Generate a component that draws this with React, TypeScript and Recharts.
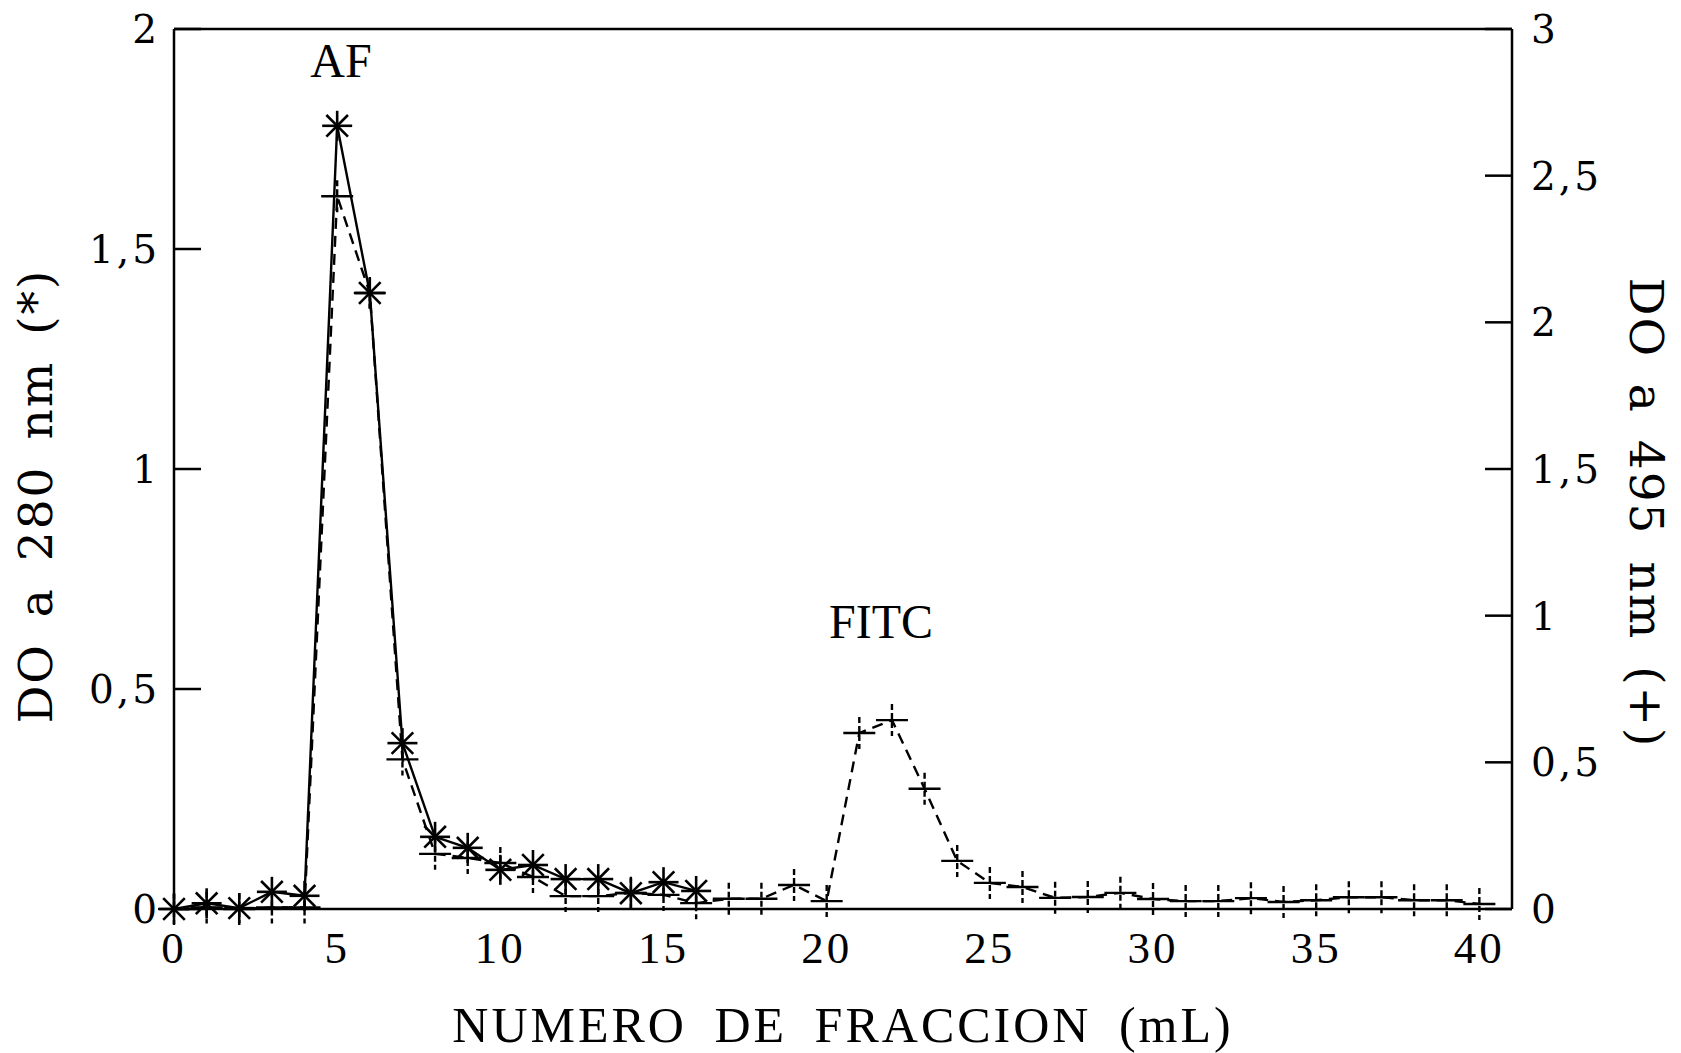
import type { JSX } from "react";
import { LineChart, Line, XAxis, YAxis, ReferenceLine, Customized } from "recharts";

// Fraction number (mL) eluted from the column
const fractions = [
  0, 1, 2, 3, 4, 5, 6, 7, 8, 9, 10, 11, 12, 13, 14, 15, 16, 17, 18, 19, 20,
  21, 22, 23, 24, 25, 26, 27, 28, 29, 30, 31, 32, 33, 34, 35, 36, 37, 38, 39, 40,
];

// Optical density at 280 nm (*), measured up to fraction 16
const do280 = [
  0, 0.013, 0.002, 0.039, 0.03, 1.78, 1.4, 0.377, 0.164, 0.139, 0.089, 0.1,
  0.068, 0.068, 0.036, 0.061, 0.041,
];

// Optical density at 495 nm (+)
const do495 = [
  0, 0.005, 0, 0.005, 0.005, 2.43, 2.1, 0.51, 0.188, 0.174, 0.157, 0.109,
  0.044, 0.044, 0.055, 0.048, 0.02, 0.035, 0.035, 0.082, 0.027, 0.6, 0.644,
  0.41, 0.164, 0.089, 0.075, 0.038, 0.041, 0.055, 0.034, 0.027, 0.027, 0.037,
  0.024, 0.03, 0.04, 0.04, 0.03, 0.03, 0.017,
];

const xTicks = [0, 5, 10, 15, 20, 25, 30, 35, 40];
const leftTicks = [0, 0.5, 1, 1.5, 2];
const rightTicks = [0, 0.5, 1, 1.5, 2, 2.5, 3];

const data = fractions.map((f, i) => ({
  fraccion: f,
  a280: i < do280.length ? do280[i] : null,
  a495: do495[i],
}));

const INK = "#000";
const numFont = '"DejaVu Serif", serif';
const textFont = '"Liberation Serif", serif';
const TICK_LEN = 27;

const fmt = (v: number) => String(v).replace(".", ",");

const LeftTick = (props: any) => {
  const { x, y, payload } = props;
  return (
    <g>
      <line x1={x} x2={x + TICK_LEN} y1={y} y2={y} stroke={INK} strokeWidth={2.5} />
      <text x={x - 14} y={y} dy="0.36em" textAnchor="end" fontFamily={numFont} fontSize={39} letterSpacing={3} fill={INK}>
        {fmt(payload.value)}
      </text>
    </g>
  );
};

const RightTick = (props: any) => {
  const { x, y, payload } = props;
  return (
    <g>
      <line x1={x - TICK_LEN} x2={x} y1={y} y2={y} stroke={INK} strokeWidth={2.5} />
      <text x={x + 19} y={y} dy="0.36em" textAnchor="start" fontFamily={numFont} fontSize={39} letterSpacing={3} fill={INK}>
        {fmt(payload.value)}
      </text>
    </g>
  );
};

const BottomTick = (props: any) => {
  const { x, y, payload } = props;
  return (
    <text x={x} y={y + 54} textAnchor="middle" fontFamily={textFont} fontSize={45} letterSpacing={3} fill={INK}>
      {payload.value}
    </text>
  );
};

// eight-armed asterisk for the 280 nm readings
const StarDot = (props: any): JSX.Element => {
  const { cx, cy, index } = props;
  if (cx == null || cy == null) return <g key={`s-${index}`} />;
  const r = 15;
  const d = r * 0.72;
  return (
    <g key={`s-${index}`} stroke={INK} strokeWidth={2.6}>
      <line x1={cx - r} x2={cx + r} y1={cy} y2={cy} />
      <line x1={cx} x2={cx} y1={cy - r} y2={cy + r} />
      <line x1={cx - d} x2={cx + d} y1={cy - d} y2={cy + d} />
      <line x1={cx - d} x2={cx + d} y1={cy + d} y2={cy - d} />
    </g>
  );
};

// plus sign for the 495 nm readings, upright stroke drawn dashed like the pen
const PlusDot = (props: any): JSX.Element => {
  const { cx, cy, index } = props;
  if (cx == null || cy == null) return <g key={`p-${index}`} />;
  const r = 16;
  return (
    <g key={`p-${index}`} stroke={INK} strokeWidth={2.4}>
      <line x1={cx - r} x2={cx + r} y1={cy} y2={cy} />
      <line x1={cx} x2={cx} y1={cy - r} y2={cy + r} strokeDasharray="6 3" />
    </g>
  );
};

const Annotations = () => (
  <g fill={INK}>
    <text x={341} y={77} textAnchor="middle" fontFamily={textFont} fontSize={48}>
      AF
    </text>
    <text x={881} y={638} textAnchor="middle" fontFamily={textFont} fontSize={48}>
      FITC
    </text>
    <text
      transform="translate(52,496) rotate(-90)"
      textAnchor="middle"
      fontFamily={numFont}
      fontSize={47}
      letterSpacing={2}
      wordSpacing={9}
    >
      DO a 280 nm (*)
    </text>
    <text
      transform="translate(1630,513) rotate(90)"
      textAnchor="middle"
      fontFamily={numFont}
      fontSize={47}
      letterSpacing={2}
      wordSpacing={9}
    >
      DO a 495 nm (+)
    </text>
    <text x={843} y={1042} textAnchor="middle" fontFamily={textFont} fontSize={50} letterSpacing={3} wordSpacing={12}>
      NUMERO DE FRACCION (mL)
    </text>
  </g>
);

export default function App() {
  return (
    <div style={{ position: "absolute", left: 0, top: 0, background: "#fff" }}>
      <LineChart width={1681} height={1053} data={data} margin={{ top: 29, right: 0, bottom: 0, left: 0 }}>
        <XAxis
          dataKey="fraccion"
          type="number"
          domain={[0, 41]}
          ticks={xTicks}
          interval={0}
          height={144}
          tickSize={0}
          tickMargin={0}
          tickLine={false}
          tick={<BottomTick />}
          axisLine={{ stroke: INK, strokeWidth: 2.5 }}
        />
        <YAxis
          yAxisId="left"
          orientation="left"
          domain={[0, 2]}
          ticks={leftTicks}
          interval={0}
          width={174}
          tickSize={0}
          tickMargin={0}
          tickLine={false}
          tick={<LeftTick />}
          axisLine={{ stroke: INK, strokeWidth: 2.5 }}
        />
        <YAxis
          yAxisId="right"
          orientation="right"
          domain={[0, 3]}
          ticks={rightTicks}
          interval={0}
          width={169}
          tickSize={0}
          tickMargin={0}
          tickLine={false}
          tick={<RightTick />}
          axisLine={{ stroke: INK, strokeWidth: 2.5 }}
        />
        <ReferenceLine yAxisId="left" y={2} stroke={INK} strokeWidth={2.5} />
        <Line
          yAxisId="right"
          dataKey="a495"
          type="linear"
          stroke={INK}
          strokeWidth={2.4}
          strokeDasharray="11 7"
          dot={PlusDot}
          activeDot={false}
          isAnimationActive={false}
        />
        <Line
          yAxisId="left"
          dataKey="a280"
          type="linear"
          stroke={INK}
          strokeWidth={2.4}
          dot={StarDot}
          activeDot={false}
          connectNulls={false}
          isAnimationActive={false}
        />
        <Customized component={Annotations} />
      </LineChart>
    </div>
  );
}
